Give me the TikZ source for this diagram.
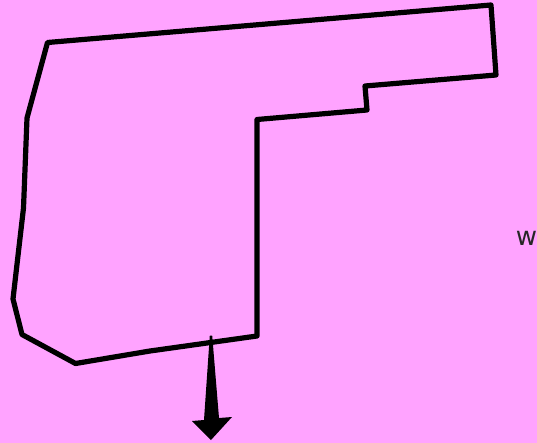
\documentclass[tikz,border=0pt]{standalone}
\usepackage{fontspec}
\setmainfont{DejaVu Sans}
\definecolor{bgpink}{RGB}{255,163,255}
\tikzset{outline/.style={draw=black,line width=3.9pt,line join=round},
 lbl/.style={font=\fontsize{19.5}{21}\selectfont,inner sep=0pt,text=black!85}}
\begin{document}
\begin{tikzpicture}[x=0.75pt,y=-0.75pt]
\path[use as bounding box,fill=bgpink] (0,0) rectangle (537,443);
\draw[outline] (47.5,42.5) -- (491,5) -- (496,75) -- (365,86) -- (367,110) -- (257,119.5) -- (257,336) -- (150,351) -- (75.5,363.5) -- (22,334.5) -- (13,299) -- (23.5,208) -- (27,118) -- cycle;
\coordinate (tailL) at (209.8,335.5);
\coordinate (tailR) at (212.2,335.5);
\coordinate (tip) at (211,440);
\fill[black] (tailR) -- (219,418) -- (232,417) -- (tip) -- (192,421) -- (204,420) -- (tailL) -- cycle;
\node[lbl,anchor=base] (w) at (526.5,245) {w};
\end{tikzpicture}
\end{document}
